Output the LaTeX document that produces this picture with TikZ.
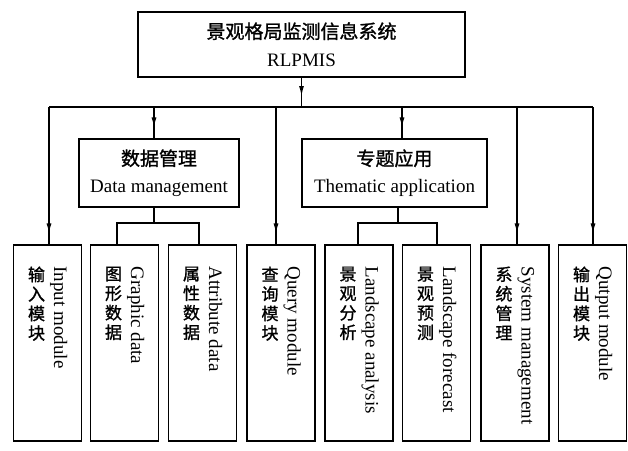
\documentclass[tikz,border=0pt]{standalone}
\usepackage{fontspec}
\setmainfont{Liberation Serif}
\newfontfamily\cjk{Noto Sans CJK SC}[FakeBold=1.2]
\usetikzlibrary{arrows.meta,decorations.markings,calc}
\begin{document}
\begin{tikzpicture}[x=1pt,y=-1pt,
  box/.style={draw,line width=1.2pt,inner sep=0pt,align=center},
  topbox/.style={box,minimum width=327pt,minimum height=65pt,font=\fontsize{19}{28}\selectfont},
  midbox/.style={box,minimum height=68pt,font=\fontsize{19}{27}\selectfont},
  botbox/.style={box,minimum width=68pt,minimum height=196pt},
  link/.style={line width=1.2pt},
  arr/.style={line width=1.2pt,postaction={decorate},
    decoration={markings,mark=at position -11pt with {\arrow{Latex[length=10pt,width=5pt]}}}},
  en/.style={font=\fontsize{19}{24}\selectfont,rotate=-90,anchor=west,inner sep=0pt,text height=13pt,text depth=4pt},
  zh/.style={font=\fontsize{17}{19.5}\selectfont\cjk,anchor=north,align=center,inner sep=0pt}]
\useasboundingbox (0,0) rectangle (628,450);

% top
\node[topbox] (top) at (301.5,44.5) {{\cjk 景观格局监测信息系统}\\RLPMIS};

% middle boxes
\node[midbox,minimum width=160pt] (dm) at (159,173) {{\cjk 数据管理}\\Data management};
\node[midbox,minimum width=185pt] (ta) at (394.5,173) {{\cjk 专题应用}\\Thematic application};

% bottom boxes
\node[botbox] (b1) at (47.5,343) {};
\node[botbox] (b2) at (124.5,343) {};
\node[botbox] (b3) at (202.5,343) {};
\node[botbox] (b4) at (281,343) {};
\node[botbox] (b5) at (359,343) {};
\node[botbox] (b6) at (436.5,343) {};
\node[botbox] (b7) at (515,343) {};
\node[botbox] (b8) at (592.5,343) {};

\node[en] (b1en) at ($(b1.north)+(11,22)$) {Input module};
\node[zh] (b1zh) at ($(b1.north)+(-11,22)$) {输\\入\\模\\块};
\node[en] (b2en) at ($(b2.north)+(11,22)$) {Graphic data};
\node[zh] (b2zh) at ($(b2.north)+(-11,22)$) {图\\形\\数\\据};
\node[en] (b3en) at ($(b3.north)+(11,22)$) {Attribute data};
\node[zh] (b3zh) at ($(b3.north)+(-11,22)$) {属\\性\\数\\据};
\node[en] (b4en) at ($(b4.north)+(11,22)$) {Query module};
\node[zh] (b4zh) at ($(b4.north)+(-11,22)$) {查\\询\\模\\块};
\node[en] (b5en) at ($(b5.north)+(11,22)$) {Landscape analysis};
\node[zh] (b5zh) at ($(b5.north)+(-11,22)$) {景\\观\\分\\析};
\node[en] (b6en) at ($(b6.north)+(11,22)$) {Landscape forecast};
\node[zh] (b6zh) at ($(b6.north)+(-11,22)$) {景\\观\\预\\测};
\node[en] (b7en) at ($(b7.north)+(11,22)$) {System management};
\node[zh] (b7zh) at ($(b7.north)+(-11,22)$) {系\\统\\管\\理};
\node[en] (b8en) at ($(b8.north)+(11,22)$) {Qutput module};
\node[zh] (b8zh) at ($(b8.north)+(-11,22)$) {输\\出\\模\\块};

% bus
\coordinate (d1) at (49,107);
\coordinate (d2) at (154,107);
\coordinate (d3) at (276,107);
\coordinate (d4) at (402,107);
\coordinate (d5) at (517,107);
\coordinate (d6) at (593,107);
\draw[link] (d1) -- (d6);
\draw[arr] (top.south) -- (top.south |- d1);
\draw[arr] (d1) -- (d1 |- b1.north);
\draw[arr] (d2) -- (d2 |- dm.north);
\draw[arr] (d3) -- (d3 |- b4.north);
\draw[arr] (d4) -- (d4 |- ta.north);
\draw[arr] (d5) -- (d5 |- b7.north);
\draw[arr] (d6) -- (d6 |- b8.north);

% data management branches
\coordinate (dj) at (154,223);
\coordinate (g1) at (117,223);
\coordinate (g2) at (199,223);
\draw[link] (dj |- dm.south) -- (dj);
\draw[link] (g1 |- b2.north) -- (g1) -- (g2) -- (g2 |- b3.north);

% thematic branches
\coordinate (tj) at (398,223);
\coordinate (t1) at (358,223);
\coordinate (t2) at (437,223);
\draw[link] (tj |- ta.south) -- (tj);
\draw[link] (t1 |- b5.north) -- (t1) -- (t2) -- (t2 |- b6.north);
\end{tikzpicture}
\end{document}
